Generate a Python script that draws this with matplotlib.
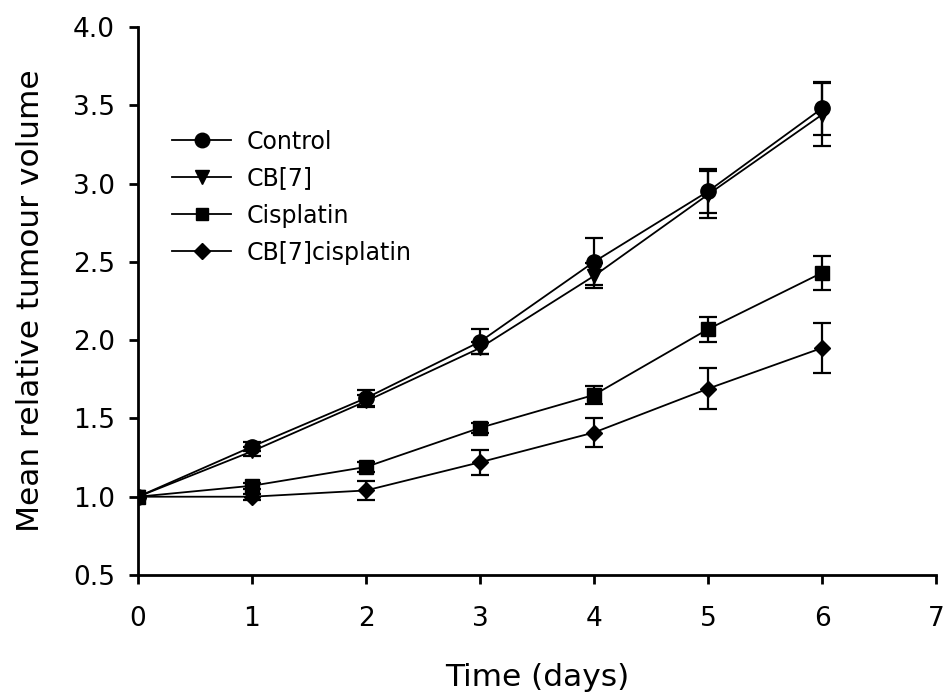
import matplotlib
matplotlib.use("Agg")
import matplotlib.pyplot as plt

# days after treatment
days = [0, 1, 2, 3, 4, 5, 6]

# mean relative tumour volume per group, with error
control = [1.00, 1.32, 1.63, 1.99, 2.50, 2.95, 3.48]
control_err = [0.0, 0.03, 0.05, 0.08, 0.15, 0.14, 0.17]

cb7 = [1.00, 1.29, 1.61, 1.95, 2.41, 2.93, 3.44]
cb7_err = [0.0, 0.03, 0.04, 0.04, 0.08, 0.15, 0.20]

cisplatin = [1.00, 1.07, 1.19, 1.44, 1.65, 2.07, 2.43]
cisplatin_err = [0.0, 0.02, 0.03, 0.03, 0.06, 0.08, 0.11]

cb7_cisplatin = [1.00, 1.00, 1.04, 1.22, 1.41, 1.69, 1.95]
cb7_cisplatin_err = [0.0, 0.02, 0.06, 0.08, 0.09, 0.13, 0.16]

series = [
    ("Control", control, control_err, "o", 11),
    ("CB[7]", cb7, cb7_err, "v", 10),
    ("Cisplatin", cisplatin, cisplatin_err, "s", 9.5),
    ("CB[7]cisplatin", cb7_cisplatin, cb7_cisplatin_err, "D", 8.5),
]

fig = plt.figure(figsize=(9.44, 6.93), dpi=100)
ax = fig.add_axes([138 / 944, 1 - 575 / 693, (936 - 138) / 944, (575 - 27) / 693])

handles = []
for name, vals, err, mk, ms in series:
    ax.errorbar(days, vals, yerr=err, fmt="none", ecolor="black",
                elinewidth=1.6, capsize=6.5, capthick=1.6, zorder=2)
    h, = ax.plot(days, vals, color="black", linewidth=1.3, marker=mk,
                 markersize=ms, markerfacecolor="black", markeredgecolor="black",
                 label=name, zorder=3)
    handles.append(h)

ax.set_xlim(0, 7)
ax.set_ylim(0.5, 4.0)
ax.set_xticks(range(0, 8))
ax.set_yticks([0.5, 1.0, 1.5, 2.0, 2.5, 3.0, 3.5, 4.0])
ax.set_yticklabels([f"{v:.1f}" for v in ax.get_yticks()])

for side in ["top", "right"]:
    ax.spines[side].set_visible(False)
for side in ["left", "bottom"]:
    ax.spines[side].set_linewidth(2)
ax.tick_params(axis="both", direction="out", length=6.5, width=2, labelsize=19)
ax.tick_params(axis="x", pad=16)
ax.tick_params(axis="y", pad=10)

ax.set_xlabel("Time (days)", fontsize=22.5, labelpad=22)
ax.set_ylabel("Mean relative tumour volume", fontsize=22.5, labelpad=20)

leg = ax.legend(handles=handles, loc="upper left", bbox_to_anchor=(0.031, 0.83),
                frameon=False, fontsize=17, handlelength=2.5, markerscale=0.95,
                labelspacing=0.55, handletextpad=0.65, borderaxespad=0)

fig.savefig("out.png", dpi=100)
